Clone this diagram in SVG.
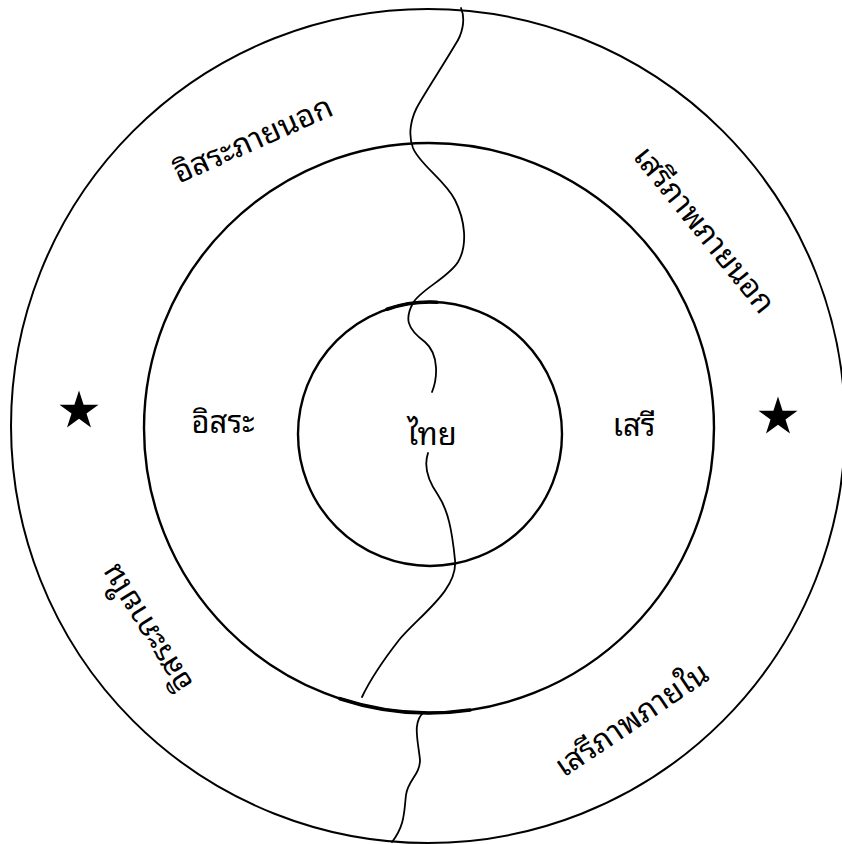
<svg xmlns="http://www.w3.org/2000/svg" width="842" height="844" viewBox="0 0 842 844">
  <style>
    .ring { fill: none; stroke: #000; stroke-width: 2; }
    .thick { fill: none; stroke: #000; stroke-width: 3.6; stroke-linecap: round; }
    .river { fill: none; stroke: #000; stroke-width: 1.8; stroke-linecap: round; stroke-linejoin: round; }
    .lbl { font-family: "Noto Sans Thai Looped", "Noto Serif Thai", "Loma", "Garuda", "Norasi", "Noto Sans Thai", "Noto Sans", "DejaVu Sans", sans-serif; font-size: 31px; fill: #000; text-anchor: middle; }
    .star { fill: #000; }
  </style>
  <defs>
    <polygon id="star" points="0,-20.5 4.6,-6.3 19.5,-6.3 7.5,2.4 12.0,16.6 0,7.8 -12.0,16.6 -7.5,2.4 -19.5,-6.3 -4.6,-6.3"/>
  </defs>
  <rect width="842" height="844" fill="#fff"/>

  <g id="outer-ring">
    <circle class="ring" cx="428" cy="426" r="417"/>
  </g>
  <g id="middle-ring">
    <circle class="ring" cx="429" cy="428" r="285" style="stroke-width:2.4"/>
    <path class="thick" d="M340,698.7 A285,285 0 0 0 470,710"/>
  </g>
  <g id="inner-ring">
    <circle class="ring" cx="430" cy="434" r="132" style="stroke-width:2.4"/>
    <path class="thick" d="M387,309.2 A132,132 0 0 1 437,302.2"/>
  </g>

  <g id="connectors">
    <path class="river" d="M461,8 C466,20 462,35 455,45 C445,62 430,85 420,102 C410,118 408,135 413,148 C420,165 445,180 455,200 C465,220 468,245 458,262 C448,278 420,290 413,303 C405,318 406,328 425,342 C440,355 437,380 432,392"/>
    <path class="river" d="M428,453 C424,465 426,478 438,495 C448,510 452,530 455,560 C458,590 420,615 399,640 C385,658 370,680 362,697"/>
    <path class="river" d="M424,712 C412,722 418,740 420,760 C420,775 408,780 406,795 C404,812 405,825 392,842"/>
  </g>

  <g id="label-thai">
    <text class="lbl" x="432" y="445">ไทย</text>
  </g>
  <g id="label-issara">
    <text class="lbl" x="223" y="433">อิสระ</text>
  </g>
  <g id="label-seri">
    <text class="lbl" x="634" y="436">เสรี</text>
  </g>
  <g id="label-issara-outer">
    <text class="lbl" transform="translate(253,140) rotate(-24)" x="0" y="10">อิสระภายนอก</text>
  </g>
  <g id="label-seri-outer">
    <text class="lbl" transform="translate(704,230) rotate(51)" x="0" y="10">เสรีภาพภายนอก</text>
  </g>
  <g id="label-seri-inner">
    <text class="lbl" transform="translate(632,720) rotate(-34)" x="0" y="10">เสรีภาพภายใน</text>
  </g>
  <g id="label-issara-inner">
    <text class="lbl" transform="translate(147,628) rotate(238)" x="0" y="10">อิสระภายใน</text>
  </g>

  <g id="star-left">
    <use href="#star" class="star" x="79" y="411"/>
  </g>
  <g id="star-right">
    <use href="#star" class="star" x="778" y="417"/>
  </g>
</svg>
